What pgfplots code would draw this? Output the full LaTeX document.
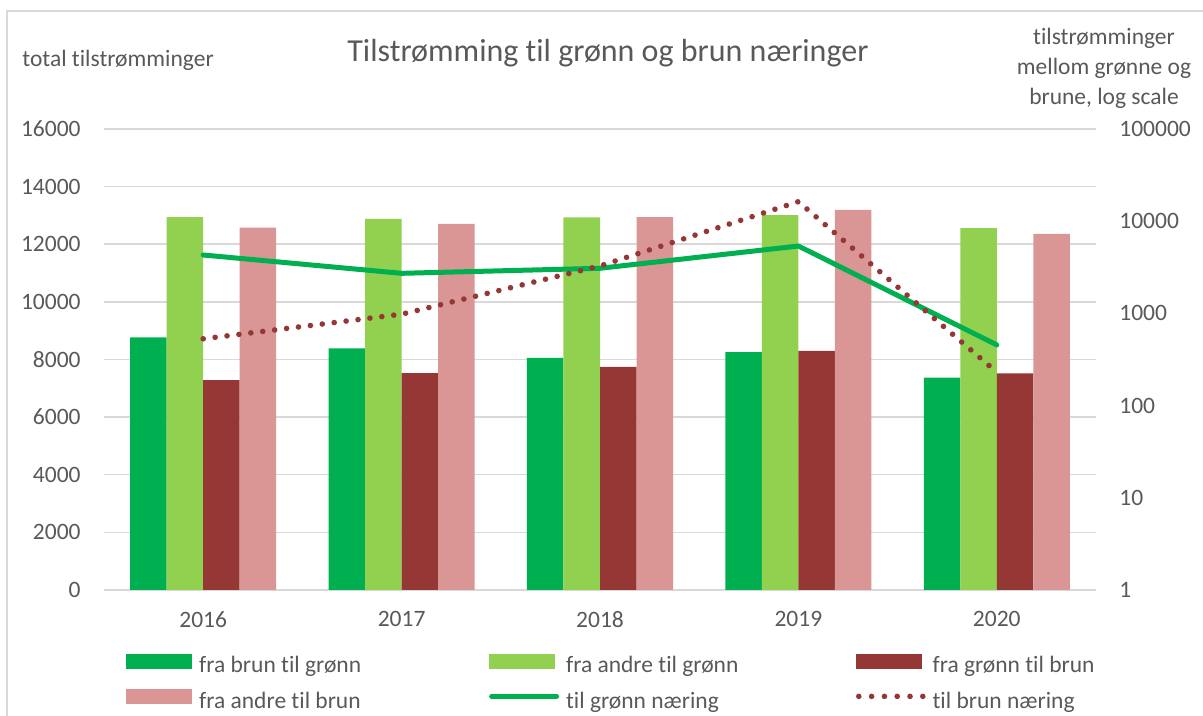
\documentclass[border=0pt]{standalone}
\usepackage{fontspec}
\setmainfont[Ligatures={NoCommon}]{Carlito}
\usepackage{pgfplots}
\pgfplotsset{compat=1.18}
\definecolor{cA}{HTML}{00B050}
\definecolor{cB}{HTML}{92D050}
\definecolor{cC}{HTML}{953735}
\definecolor{cD}{HTML}{DA9694}
\definecolor{txt}{HTML}{595959}
\definecolor{gridc}{HTML}{D9D9D9}
\newcommand{\tf}{\fontsize{11.75pt}{15pt}\selectfont}
\begin{document}
\begin{tikzpicture}
\tf
\path[use as bounding box] (0,0) rectangle (601.5pt,358pt);
\draw[gridc, line width=1pt] (3.5pt,0pt) -- (3.5pt,352.5pt) -- (601.5pt,352.5pt);
\node[anchor=base west, text=txt, inner sep=0pt] at (11pt,324.5pt) {total tilstrømminger};
\node[anchor=base, text=txt, inner sep=0pt, font=\fontsize{16pt}{19pt}\selectfont] at (304pt,327pt) {Tilstrømming til grønn og brun næringer};
\node[anchor=north, align=center, text=txt, inner sep=0pt] at (552pt,344pt) {tilstrømminger\\mellom grønne og\\brune, log scale};
\begin{axis}[
  at={(52pt,63pt)}, anchor=south west, scale only axis, width=496pt, height=230.5pt,
  xmin=-0.5, xmax=4.5, ymin=0, ymax=16000,
  xtick={0,1,2,3,4}, xticklabels={2016,2017,2018,2019,2020},
  ytick={0,2000,...,16000}, scaled y ticks=false,
  ymajorgrids, grid style={gridc, line width=0.75pt},
  axis line style={draw=none}, major tick style={draw=none}, minor tick style={draw=none},
  tick label style={font=\tf, text=txt, inner sep=0pt},
  yticklabel style={xshift=-11.5pt},
  xticklabel style={yshift=-10.5pt},
  /pgf/number format/1000 sep={}, /pgf/number format/assume math mode=true,
]
\addplot[ybar, bar width=0.184, bar shift=-0.276, fill=cA, draw=none] coordinates {(0,8770) (1,8390) (2,8060) (3,8260) (4,7370)};
\addplot[ybar, bar width=0.184, bar shift=-0.092, fill=cB, draw=none] coordinates {(0,12940) (1,12880) (2,12930) (3,13010) (4,12560)};
\addplot[ybar, bar width=0.184, bar shift=0.092, fill=cC, draw=none] coordinates {(0,7280) (1,7530) (2,7740) (3,8300) (4,7520)};
\addplot[ybar, bar width=0.184, bar shift=0.276, fill=cD, draw=none] coordinates {(0,12580) (1,12710) (2,12940) (3,13190) (4,12360)};
\end{axis}
\begin{axis}[
  at={(52pt,63pt)}, anchor=south west, scale only axis, width=496pt, height=230.5pt,
  xmin=-0.5, xmax=4.5, ymode=log, ymin=1, ymax=100000,
  axis x line=none, axis y line*=right,
  ytick={1,10,100,1000,10000,100000}, yticklabels={1,10,100,1000,10000,100000},
  minor ytick={},
  axis line style={draw=none}, major tick style={draw=none}, minor tick style={draw=none},
  tick label style={font=\tf, text=txt, inner sep=0pt},
  yticklabel style={anchor=west, xshift=11.5pt},
  legend columns=3, legend cell align=left,
  legend style={at={(axis description cs:0.02218,-0.2028)}, anchor=west, draw=none, fill=none,
    inner sep=0pt, column sep=0pt, row sep=5.5pt,
    nodes={inner sep=0pt, text=txt, font=\tf, text height=8.5pt, text depth=2.5pt},
    /tikz/every odd column/.style={column sep=3.5pt}},
]
\addlegendimage{legend image code/.code={\fill[cA] (0pt,-0.5pt) rectangle (32.5pt,6.5pt);}}
\addlegendentry{\makebox[144.75pt][l]{fra brun til grønn}}
\addlegendimage{legend image code/.code={\fill[cB] (0pt,-0.5pt) rectangle (32.5pt,6.5pt);}}
\addlegendentry{\makebox[144.75pt][l]{fra andre til grønn}}
\addlegendimage{legend image code/.code={\fill[cC] (0pt,-0.5pt) rectangle (32.5pt,6.5pt);}}
\addlegendentry{\makebox[144.75pt][l]{fra grønn til brun}}
\addlegendimage{legend image code/.code={\fill[cD] (0pt,-0.5pt) rectangle (32.5pt,6.5pt);}}
\addlegendentry{\makebox[144.75pt][l]{fra andre til brun}}
\addplot[cA, line width=2.5pt, line join=round, line cap=round,
  legend image code/.code={\draw[cA, line width=2.5pt, line cap=round] (1.25pt,3pt) -- (33.75pt,3pt);}]
  coordinates {(0,4300) (1,2720) (2,3085) (3,5380) (4,455)};
\addlegendentry{\makebox[144.75pt][l]{til grønn næring}}
\addplot[cC, line width=2.8pt, line cap=round, dash pattern=on 0pt off 6pt,
  legend image code/.code={\draw[cC, line width=2.8pt, line cap=round, dash pattern=on 0pt off 6.4pt] (1.4pt,3pt) -- (33.4pt,3pt);}]
  coordinates {(0,530) (1,980) (2,3270) (3,16300) (4,230)};
\addlegendentry{\makebox[144.75pt][l]{til brun næring}}
\end{axis}
\end{tikzpicture}
\end{document}
